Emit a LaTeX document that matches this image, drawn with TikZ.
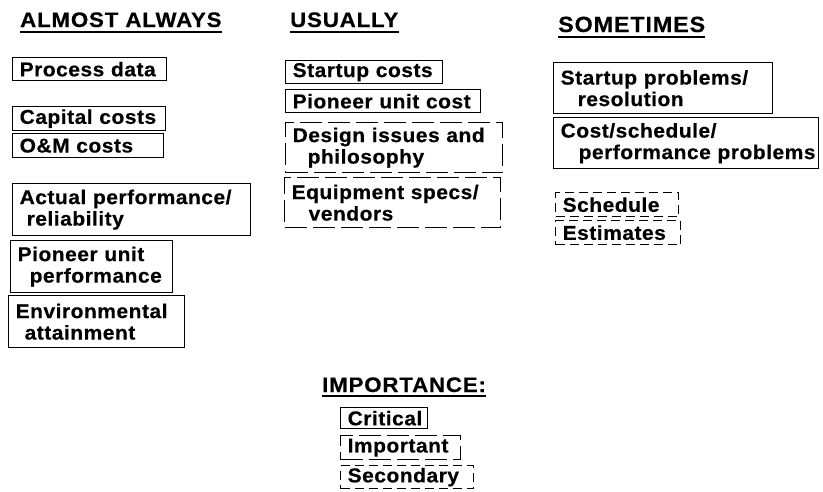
\documentclass[tikz,border=0pt]{standalone}
\usepackage{fontspec}
\setmainfont{Liberation Sans}
\newfontfamily\labelfont{Liberation Sans}[LetterSpace=2.5, FakeStretch=1.05, FakeBold=0.4]
\newfontfamily\headfont{Liberation Sans}[LetterSpace=4, FakeStretch=1.06, FakeBold=0.4]
\begin{document}
\begin{tikzpicture}[x=1pt,y=-1pt,
  lbl/.style={font=\labelfont\bfseries\fontsize{20}{21.5}\selectfont},
  critical/.style={lbl, draw, line width=1.3pt, anchor=north west,
    inner xsep=7pt, inner ysep=0pt, align=left},
  important/.style={critical, dash pattern=on 22pt off 6pt},
  secondary/.style={critical, dash pattern=on 9pt off 5pt},
  sz/.style n args={3}{minimum width=#1pt, text width=#2pt, minimum height=#3pt},
  head/.style={font=\headfont\bfseries\fontsize{21}{24}\selectfont,
    anchor=base west, inner sep=0pt},
  uline/.style={line width=1.6pt}
]
\useasboundingbox (0,0) rectangle (823,491);

% column headings
\node[head] (hA) at (20,27) {ALMOST ALWAYS};
\node[head] (hU) at (290,27) {USUALLY};
\node[head, font=\headfont\bfseries\fontsize{22}{24}\selectfont] (hS) at (558,32) {SOMETIMES};
\foreach \h in {hA,hU,hS}
  \draw[uline] ([yshift=-5pt]\h.base west) -- ([yshift=-5pt]\h.base east);

% almost always
\node[critical, sz={154}{140}{23}] (pd)  at (12,57)  {Process data};
\node[critical, sz={153}{139}{24}] (cap) at (12,106) {Capital costs};
\node[critical, sz={151}{137}{24}] (om)  at (12,133) {O\&M costs};
\node[critical, sz={238}{224}{52}] (act) at (12,183) {\mbox{Actual performance/}\\\hspace*{7pt}reliability};
\node[critical, sz={162}{148}{52}] (pio) at (10,240) {Pioneer unit\\\hspace*{12pt}performance};
\node[critical, sz={176}{162}{52}] (env) at (8,295)  {Environmental\\\hspace*{9pt}attainment};

% usually
\node[critical, sz={157}{143}{23}] (suc) at (285,60)  {Startup costs};
\node[critical, sz={195}{181}{23}] (puc) at (285,89)  {\mbox{Pioneer unit cost}};
\node[important, sz={217}{203}{50}] (des) at (285,122) {\mbox{Design issues and}\\\hspace*{15pt}philosophy};
\node[important, sz={216}{202}{50}] (eq)  at (284,177) {\mbox{Equipment specs/}\\\hspace*{17pt}vendors};

% sometimes
\node[critical, sz={219}{205}{51}] (spr) at (553,62)  {\mbox{Startup problems/}\\\hspace*{17pt}resolution};
\node[critical, sz={265}{251}{51}] (csp) at (553,117) {Cost/schedule/\\\hspace*{18pt}\mbox{performance problems}};
\node[secondary, sz={123}{109}{24}] (sch) at (555,192) {Schedule};
\node[secondary, sz={125}{111}{24}] (est) at (555,220) {Estimates};

% key
\node[head] (hI) at (322,392) {IMPORTANCE:};
\draw[uline] ([yshift=-4pt]hI.base west) -- ([yshift=-4pt]hI.base east);
\node[critical, sz={87}{73}{21}]   (kc) at (340,407) {Critical};
\node[important, sz={120}{106}{24}] (ki) at (340,435) {Important};
\node[secondary, sz={133}{119}{23}] (ks) at (340,465) {Secondary};
\end{tikzpicture}
\end{document}
